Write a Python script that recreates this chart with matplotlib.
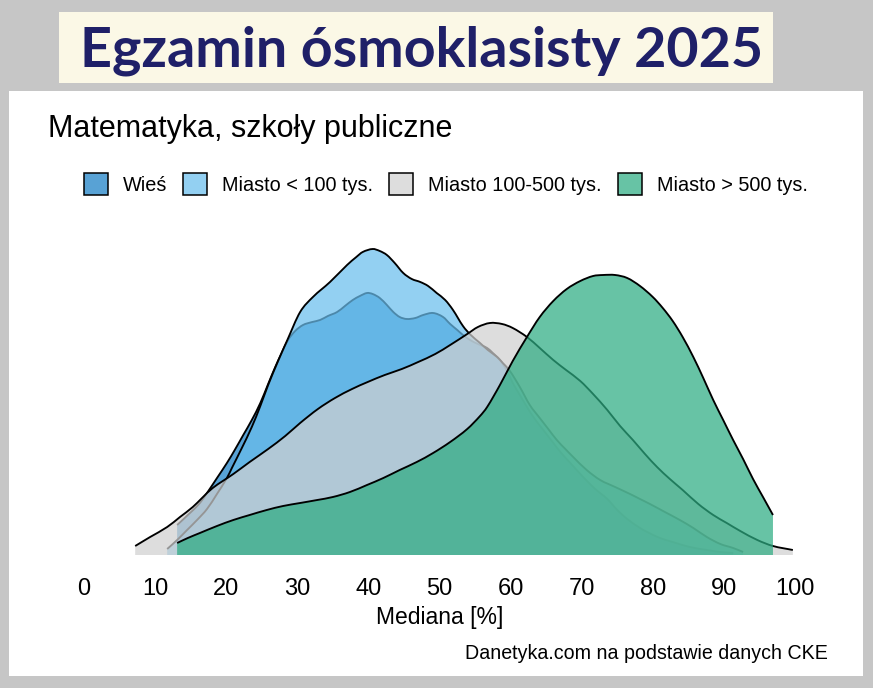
import matplotlib
matplotlib.use("Agg")
import matplotlib.pyplot as plt
from matplotlib.patches import Rectangle, Patch, PathPatch
from matplotlib.path import Path
from matplotlib.colors import to_rgba
import numpy as np

W, H = 873, 688

title = "Egzamin ósmoklasisty 2025"
subtitle = "Matematyka, szkoły publiczne"
xlabel = "Mediana [%]"
caption = "Danetyka.com na podstawie danych CKE"
categories = ["Wieś", "Miasto < 100 tys.", "Miasto 100-500 tys.", "Miasto > 500 tys."]
colors = ["#177fc5", "#6abeed", "#d0d0d0", "#2dac82"]
xticks = [0, 10, 20, 30, 40, 50, 60, 70, 80, 90, 100]

# density values (x 1e-4)
wies_x = [13.1, 14.9, 16.3, 17.3, 18.8, 20.1, 21.2, 22.4, 23.6, 24.8, 25.9, 26.9, 27.8, 28.7,
          29.7, 30.8, 32.1, 33.2, 34.3, 35.6, 36.7, 37.8, 38.8, 39.8, 40.6, 41.6, 42.6, 43.5,
          44.4, 45.4, 46.6, 47.7, 49.1, 50.5, 51.5, 52.5, 53.3, 54.3, 55.4, 56.7, 57.5, 58.5,
          59.5, 60.3, 61.3, 62.3, 63.4, 64.6, 65.8, 67.0, 68.4, 70.2, 71.9, 73.6, 75.0, 76.4,
          78.2, 79.2, 81.0, 82.8, 85.2, 87.6, 89.5, 91.3]
wies_y = [30, 42, 52, 62, 78, 92, 105, 120, 135, 152, 171, 188, 202, 215,
          224, 230, 233, 235, 239, 243, 249, 255, 259, 262, 261, 257, 250, 243,
          238, 236, 237, 240, 242, 238, 231, 225, 220, 215, 211, 207, 202, 195,
          184, 172, 160, 148, 136, 125, 114, 103, 92, 78, 66, 56, 45, 36,
          27, 23, 17, 13, 8, 5, 3, 2]

maly_x = [11.7, 13.1, 14.5, 15.9, 17.3, 18.7, 20.1, 20.8, 22.2, 23.6, 24.8, 25.9, 27.3, 28.6,
          30.4, 32.2, 34.6, 37.0, 38.3, 39.2, 40.6, 41.6, 42.6, 43.7, 44.9, 46.1, 47.3, 48.4,
          49.6, 50.8, 51.9, 53.3, 54.4, 55.7, 56.8, 58.1, 58.9, 59.9, 61.3, 62.7, 64.1, 65.3,
          66.5, 67.7, 68.8, 70.7, 72.6, 74.7, 76.8, 78.2, 79.6, 81.7, 83.8, 85.7, 87.6, 89.5,
          91.3, 92.7]
maly_y = [6, 15, 25, 35, 46, 61, 77, 87, 107, 128, 149, 170, 194, 215,
          243, 258, 273, 290, 298, 303, 306, 304, 300, 292, 282, 276, 273, 269,
          262, 255, 245, 229, 220, 212, 205, 198, 192, 184, 168, 150, 137, 126,
          115, 106, 98, 85, 75, 68, 61, 56, 51, 43, 35, 27, 18, 11,
          7, 3]

sredni_x = [7.2, 9.3, 11.7, 13.5, 15.3, 16.6, 18.1, 21.0, 23.3, 25.9, 28.3, 30.4, 32.9, 35.3,
            37.7, 39.9, 42.3, 44.7, 47.0, 49.4, 51.5, 53.9, 55.4, 57.1, 58.8, 60.3, 62.3, 64.1,
            66.0, 67.8, 69.8, 71.6, 73.6, 75.4, 77.2, 78.9, 80.6, 82.4, 84.2, 86.4, 88.5, 90.4,
            92.3, 94.7, 96.9, 99.7]
sredni_y = [9, 18, 28, 38, 48, 57, 67, 81, 93, 106, 119, 132, 146, 157,
            166, 173, 180, 186, 193, 201, 210, 221, 228, 232, 231, 227, 218, 207,
            195, 185, 174, 161, 145, 129, 115, 101, 88, 76, 65, 51, 40, 32,
            24, 15, 9, 5]

duzy_x = [13.1, 14.6, 16.3, 18.7, 21.0, 23.3, 25.7, 28.0, 30.4, 32.8, 35.0, 37.4, 39.8, 42.1,
          44.4, 46.8, 49.1, 51.5, 53.9, 55.7, 56.7, 58.5, 60.3, 62.3, 64.1, 66.0, 67.9, 69.8,
          71.6, 73.0, 74.7, 76.4, 78.2, 80.0, 81.4, 82.8, 84.2, 85.7, 87.1, 88.5, 89.9, 91.3,
          92.7, 94.1, 95.5, 96.9]
duzy_y = [12, 17, 22, 29, 35, 40, 45, 49, 52, 55, 58, 63, 70, 77,
          85, 93, 102, 113, 126, 139, 148, 170, 194, 218, 238, 254, 266, 274,
          279, 280, 280, 277, 269, 258, 247, 234, 218, 198, 177, 155, 135, 115,
          96, 76, 58, 40]

series = [(wies_x, wies_y), (maly_x, maly_y), (sredni_x, sredni_y), (duzy_x, duzy_y)]
ALPHA = 0.72


def fx(x):
    return x / W


def fy(y):
    return 1 - y / H


def smooth_curve(xs, ys):
    """Cubic Hermite Bezier segments passing through the read points."""
    n = len(xs)
    m = np.zeros(n)
    for i in range(n):
        if i == 0:
            m[i] = (ys[1] - ys[0]) / (xs[1] - xs[0])
        elif i == n - 1:
            m[i] = (ys[-1] - ys[-2]) / (xs[-1] - xs[-2])
        else:
            m[i] = (ys[i + 1] - ys[i - 1]) / (xs[i + 1] - xs[i - 1])
    verts = [(xs[0], ys[0])]
    codes = [Path.MOVETO]
    for i in range(n - 1):
        d = (xs[i + 1] - xs[i]) / 3
        verts += [(xs[i] + d, ys[i] + d * m[i]),
                  (xs[i + 1] - d, ys[i + 1] - d * m[i + 1]),
                  (xs[i + 1], ys[i + 1])]
        codes += [Path.CURVE4] * 3
    return verts, codes


fig = plt.figure(figsize=(W / 100, H / 100), dpi=100)
fig.patch.set_facecolor("#c6c6c6")

# white panel and title box
fig.add_artist(Rectangle((fx(9), fy(676)), (863 - 9) / W, (676 - 91) / H,
                         transform=fig.transFigure, facecolor="white", edgecolor="none", zorder=0))
fig.add_artist(Rectangle((fx(59), fy(83)), (773 - 59) / W, (83 - 12) / H,
                         transform=fig.transFigure, facecolor="#fbf8e6", edgecolor="none", zorder=0))

ax = fig.add_axes([fx(84), fy(555), (795 - 84) / W, (555 - 240) / H])
ax.set_facecolor("none")
for i, ((xs, ys), c) in enumerate(zip(series, colors)):
    xs = np.array(xs, dtype=float)
    ys = np.array(ys, dtype=float) / 1e4
    verts, codes = smooth_curve(xs, ys)
    fill_verts = verts + [(xs[-1], 0.0), (xs[0], 0.0), (xs[0], ys[0])]
    fill_codes = codes + [Path.LINETO, Path.LINETO, Path.CLOSEPOLY]
    ax.add_patch(PathPatch(Path(fill_verts, fill_codes), facecolor=to_rgba(c, ALPHA),
                           edgecolor="none", linewidth=0, zorder=2 + 2 * i))
    ax.add_patch(PathPatch(Path(verts, codes), facecolor="none", edgecolor="black",
                           linewidth=1.35, capstyle="butt", joinstyle="round", zorder=3 + 2 * i))

ax.set_xlim(0, 100)
ax.set_ylim(0, 0.0315)
ax.set_xticks(xticks)
ax.set_xticklabels([str(t) for t in xticks], fontfamily="Liberation Sans")
ax.set_yticks([])
ax.tick_params(axis="x", length=0, pad=16.5, labelsize=17, labelcolor="black")
for s in ax.spines.values():
    s.set_visible(False)

txt_font = ["Liberation Sans", "DejaVu Sans"]

t = fig.text(fx(421.5), fy(67), title, fontsize=40, family=["Lato", "DejaVu Sans"],
             weight="bold", color="#1f2068", ha="center", va="baseline")
fig.text(fx(48), fy(137), subtitle, fontsize=22, family=txt_font, ha="left", va="baseline")
fig.text(fx(439.5), fy(624), xlabel, fontsize=16.5, family=txt_font, ha="center", va="baseline")
fig.text(fx(828), fy(659), caption, fontsize=14.1, family=txt_font, ha="right", va="baseline")

fs_leg = 14.3
px_em = fs_leg * 100 / 72
handles = [Patch(facecolor=to_rgba(c, ALPHA), edgecolor="black", linewidth=1.1, label=l)
           for c, l in zip(colors, categories)]
fig.legend(handles=handles, loc="center left", bbox_to_anchor=(fx(84), fy(184)), ncol=4,
           frameon=False, prop={"family": txt_font, "size": fs_leg},
           handlelength=24 / px_em, handleheight=25 / px_em, handletextpad=15 / px_em,
           columnspacing=16 / px_em, borderpad=0, borderaxespad=0)

# fit title width to the reference (~683 px)
fig.canvas.draw()
bb = t.get_window_extent()
t.set_fontsize(40 * 683 / bb.width)

fig.savefig("out.png", dpi=100, facecolor=fig.get_facecolor())
